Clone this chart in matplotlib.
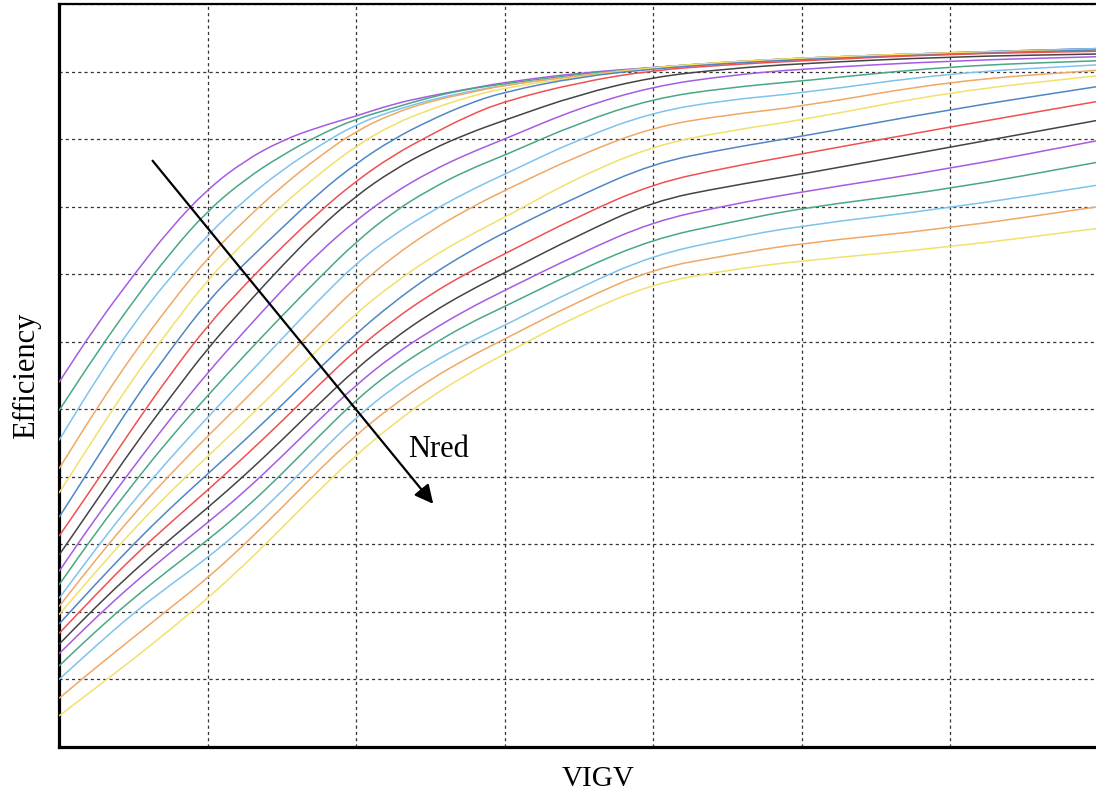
import matplotlib
matplotlib.use("Agg")
import matplotlib.pyplot as plt
from matplotlib.path import Path
from matplotlib.patches import PathPatch

# VIGV settings (deg) at which each efficiency curve is tabulated
vigv = [-30, -27.5, -25, -22.5, -20, -17.5, -15, -12.5, -10, -7.5, -5, -2.5,
        0, 5, 10, 15, 20, 30, 40]

# Efficiency (%) for each reduced speed line, highest Nred first
eff_n01 = [67.0, 71.2, 74.9, 78.4, 81.3, 83.4, 84.9, 85.9, 86.7, 87.6, 88.2, 88.7, 89.2, 89.9, 90.3, 90.7, 91.0, 91.4, 91.7]
eff_n02 = [64.9, 69.1, 73.0, 76.6, 79.7, 82.0, 83.8, 85.3, 86.5, 87.3, 88.1, 88.7, 89.1, 89.8, 90.3, 90.7, 91.0, 91.4, 91.7]
eff_n03 = [62.7, 67.2, 71.3, 74.8, 77.9, 80.5, 82.7, 84.5, 86.1, 87.1, 87.9, 88.5, 89.0, 89.7, 90.3, 90.7, 91.0, 91.4, 91.7]
eff_n04 = [60.6, 65.0, 69.1, 72.8, 76.2, 79.0, 81.5, 83.7, 85.6, 86.9, 87.8, 88.4, 89.0, 89.7, 90.3, 90.7, 91.0, 91.4, 91.6]
eff_n05 = [58.8, 63.1, 67.3, 71.0, 74.6, 77.4, 80.1, 82.4, 84.5, 86.1, 87.2, 88.1, 88.8, 89.6, 90.3, 90.7, 91.0, 91.4, 91.6]
eff_n06 = [57.0, 61.3, 65.6, 69.4, 73.0, 75.8, 78.4, 81.0, 83.2, 85.0, 86.4, 87.6, 88.5, 89.6, 90.2, 90.6, 90.9, 91.3, 91.6]
eff_n07 = [55.6, 59.6, 63.7, 67.6, 71.2, 74.2, 77.0, 79.6, 81.9, 83.8, 85.3, 86.7, 87.8, 89.2, 90.1, 90.5, 90.8, 91.3, 91.5]
eff_n08 = [54.2, 58.2, 62.2, 65.9, 69.5, 72.6, 75.6, 78.4, 80.8, 82.7, 84.2, 85.4, 86.4, 88.3, 89.6, 90.2, 90.6, 91.1, 91.3]
eff_n09 = [53.0, 57.0, 60.7, 64.3, 67.7, 70.8, 73.8, 76.6, 79.0, 81.0, 82.6, 83.9, 85.0, 87.3, 88.9, 89.7, 90.2, 90.8, 91.1]
eff_n10 = [52.0, 55.9, 59.5, 62.9, 66.0, 69.0, 71.9, 74.7, 77.4, 79.6, 81.3, 82.7, 83.8, 86.2, 88.0, 88.8, 89.3, 90.4, 90.8]
eff_n11 = [51.0, 54.7, 58.2, 61.4, 64.4, 67.3, 70.2, 73.1, 75.8, 77.9, 79.6, 81.1, 82.4, 85.0, 87.0, 87.9, 88.4, 89.9, 90.5]
eff_n12 = [50.4, 53.9, 57.2, 60.2, 63.0, 65.7, 68.5, 71.3, 74.0, 76.3, 78.2, 79.8, 81.2, 83.8, 85.9, 86.8, 87.4, 89.3, 90.1]
eff_n13 = [49.8, 53.0, 56.1, 58.9, 61.5, 64.1, 66.8, 69.5, 72.1, 74.3, 76.2, 77.8, 79.2, 82.2, 84.5, 85.6, 86.4, 88.5, 89.7]
eff_n14 = [49.1, 52.1, 55.0, 57.7, 60.2, 62.7, 65.3, 68.0, 70.6, 72.9, 74.9, 76.6, 78.1, 80.8, 83.2, 84.3, 85.2, 87.2, 88.9]
eff_n15 = [48.4, 51.3, 54.1, 56.6, 59.0, 61.5, 64.1, 66.8, 69.4, 71.6, 73.5, 75.1, 76.5, 79.3, 81.7, 82.9, 83.9, 85.9, 87.8]
eff_n16 = [47.6, 50.4, 53.0, 55.4, 57.7, 60.1, 62.7, 65.4, 68.0, 70.2, 72.1, 73.7, 75.1, 77.9, 80.4, 81.5, 82.4, 84.4, 86.4]
eff_n17 = [46.9, 49.6, 52.1, 54.4, 56.6, 58.9, 61.5, 64.2, 66.8, 69.0, 70.8, 72.4, 73.8, 76.5, 78.9, 80.1, 81.1, 82.8, 84.9]
eff_n18 = [46.0, 48.6, 51.0, 53.2, 55.3, 57.6, 60.2, 63.0, 65.7, 67.9, 69.7, 71.3, 72.6, 75.3, 77.6, 78.8, 79.9, 81.3, 83.3]
eff_n19 = [45.0, 47.5, 49.9, 52.0, 54.0, 56.3, 58.9, 61.7, 64.4, 66.6, 68.4, 69.9, 71.2, 74.0, 76.4, 77.6, 78.6, 79.9, 81.6]
eff_n20 = [43.6, 45.9, 48.1, 50.3, 52.5, 55.0, 57.7, 60.5, 63.1, 65.3, 67.2, 68.8, 70.2, 73.0, 75.4, 76.4, 77.3, 78.4, 80.0]
eff_n21 = [42.3, 44.4, 46.5, 48.7, 51.0, 53.5, 56.2, 59.0, 61.6, 63.9, 65.9, 67.6, 69.1, 72.0, 74.3, 75.3, 76.0, 77.0, 78.4]

speed_lines = [eff_n01, eff_n02, eff_n03, eff_n04, eff_n05, eff_n06, eff_n07,
               eff_n08, eff_n09, eff_n10, eff_n11, eff_n12, eff_n13, eff_n14,
               eff_n15, eff_n16, eff_n17, eff_n18, eff_n19, eff_n20, eff_n21]

line_colors = ["#A65BE3", "#48A884", "#7DC3EE", "#F0A865", "#F2E06A",
               "#4F86C6", "#F0504F", "#444444"]

serif = ["Liberation Serif", "DejaVu Serif"]


def smooth_path(xs, ys):
    """Quadratic B-spline style path through the tabulated points."""
    pts = list(zip(xs, ys))
    verts = [pts[0]]
    codes = [Path.MOVETO]
    mid = lambda a, b: ((a[0] + b[0]) / 2, (a[1] + b[1]) / 2)
    verts.append(mid(pts[0], pts[1]))
    codes.append(Path.LINETO)
    for i in range(1, len(pts) - 1):
        verts += [pts[i], mid(pts[i], pts[i + 1])]
        codes += [Path.CURVE3, Path.CURVE3]
    verts.append(pts[-1])
    codes.append(Path.LINETO)
    return Path(verts, codes)


fig = plt.figure(figsize=(10.96, 8.03), dpi=100)
ax = fig.add_axes([59 / 1096, 55 / 803, 1039.5 / 1096, 743 / 803])

for k, eff in enumerate(speed_lines):
    ax.add_patch(PathPatch(smooth_path(vigv, eff), facecolor="none",
                           edgecolor=line_colors[k % len(line_colors)],
                           lw=1.1, zorder=3))

ax.set_xlim(-30, 40)
ax.set_ylim(40, 95)
ax.set_xticks(range(-30, 41, 10))
ax.set_yticks(range(40, 96, 5))
ax.tick_params(length=0, labelleft=False, labelbottom=False)
ax.grid(True, color="#333333", lw=0.9, linestyle=(0, (2.5, 2.5)), zorder=1)

for side in ("left", "bottom"):
    ax.spines[side].set_linewidth(2.3)
ax.spines["top"].set_linewidth(1.6)
ax.spines["right"].set_visible(False)

# Direction of increasing reduced speed
ax.annotate("", xy=(-4.8, 58.0), xytext=(-23.7, 83.4),
            arrowprops=dict(arrowstyle="-|>", color="black", lw=1.6,
                            mutation_scale=28, shrinkA=0, shrinkB=0),
            zorder=5)
ax.text(-6.5, 62.1, "Nred", fontsize=22, family=serif, ha="left",
        va="center", zorder=5)

fig.text(598 / 1096, 1 - 779 / 803, "VIGV", fontsize=21, family=serif,
         ha="center", va="center")
fig.text(27 / 1096, 1 - 376 / 803, "Efficiency", fontsize=22, family=serif,
         ha="center", va="center", rotation=90)

fig.savefig("out.png", dpi=100)
